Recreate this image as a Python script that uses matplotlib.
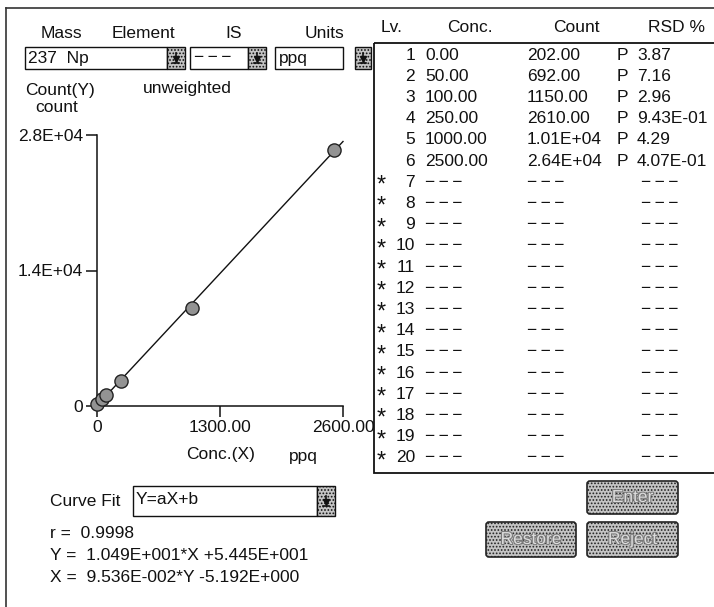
import matplotlib
matplotlib.use('Agg')
import matplotlib.pyplot as plt
from matplotlib import font_manager
from matplotlib.patches import Rectangle, FancyBboxPatch
import matplotlib.patheffects as pe
import numpy as np

# ---------------- data ----------------
levels = list(range(1, 21))
conc = [0.00, 50.00, 100.00, 250.00, 1000.00, 2500.00]
count = [202.00, 692.00, 1150.00, 2610.00, 10100.0, 26400.0]
count_labels = ["202.00", "692.00", "1150.00", "2610.00", "1.01E+04", "2.64E+04"]
rsd_labels = ["3.87", "7.16", "2.96", "9.43E-01", "4.29", "4.07E-01"]
slope = 10.49
intercept = 54.45
x_ticks = [0, 1300, 2600]
x_tick_labels = ["0", "1300.00", "2600.00"]
y_ticks = [0, 14000, 28000]
y_tick_labels = ["0", "1.4E+04", "2.8E+04"]
fit_lines = ["r =  0.9998",
             "Y =  1.049E+001*X +5.445E+001",
             "X =  9.536E-002*Y -5.192E+000"]
DASH = "\u2212\u2009\u2212\u2009\u2212"

# ---------------- fonts ----------------
names = {f.name for f in font_manager.fontManager.ttflist}
if 'Liberation Sans Narrow' in names:
    FAM = ['Liberation Sans Narrow', 'DejaVu Sans']
    FS = 14.0
else:
    FAM = ['Liberation Sans', 'DejaVu Sans']
    FS = 12.5
plt.rcParams['font.family'] = FAM
plt.rcParams['hatch.color'] = '#6a6a6a'
plt.rcParams['hatch.linewidth'] = 0.8

W, H = 714, 607
fig = plt.figure(figsize=(W / 100, H / 100), dpi=100)
bg = fig.add_axes([0, 0, 1, 1])
bg.set_xlim(0, W)
bg.set_ylim(H, 0)
bg.axis('off')

K = '#111111'


def txt(x, y, s, ha='left', va='center', **kw):
    kw.setdefault('color', K)
    kw.setdefault('fontsize', FS)
    bg.text(x, y, s, ha=ha, va=va, **kw)


def box(x0, x1, y0, y1, lw=1.0):
    bg.add_patch(Rectangle((x0, y0), x1 - x0, y1 - y0, fill=False,
                           edgecolor=K, lw=lw))


def dropbtn(x0, x1, y0, y1):
    bg.add_patch(Rectangle((x0, y0), x1 - x0, y1 - y0, facecolor='#c4c4c4',
                           edgecolor=K, lw=1.0, hatch='.....'))
    cx = (x0 + x1) / 2
    cy = (y0 + y1) / 2
    bg.plot([cx, cx], [cy - 5, cy + 1], color=K, lw=1.2)
    bg.plot([cx], [cy + 1], marker='v', ms=4, color=K)
    bg.plot([cx - 3, cx + 3], [cy + 5, cy + 5], color=K, lw=1.2)


# window borders
bg.plot([6, W], [8, 8], color='#333333', lw=1.2)
bg.plot([6, 6], [8, H], color='#333333', lw=1.2)

# top selector row
txt(61, 33, "Mass", ha='center')
txt(143, 33, "Element", ha='center')
txt(234, 33, "IS", ha='center')
txt(324, 33, "Units", ha='center')
box(25, 167, 47, 69)
txt(28, 58, "237  Np")
dropbtn(167, 185, 47, 69)
box(190, 248, 47, 69)
txt(194, 58, DASH)
dropbtn(248, 266, 47, 69)
box(275, 343, 47, 69)
txt(279, 58, "ppq")
dropbtn(355, 371, 47, 69)

txt(25, 91, "Count(Y)")
txt(143, 89, "unweighted")
txt(57, 107, "count", ha='center')

# ---------------- table ----------------
txt(392, 28, "Lv.", ha='center')
txt(470, 28, "Conc.", ha='center')
txt(576, 28, "Count", ha='center')
txt(677, 28, "RSD %", ha='center')
box(374, W + 5, 43, 473, lw=1.3)
row0, pitch = 55, 21.2
for i, lv in enumerate(levels):
    y = row0 + i * pitch
    txt(415, y, str(lv), ha='right')
    if i < len(conc):
        txt(425, y, f"{conc[i]:.2f}")
        txt(527, y, count_labels[i])
        txt(617, y, "P")
        txt(637, y, rsd_labels[i])
    else:
        txt(381, y + 3, "*", ha='center', fontsize=FS * 1.35)
        txt(425, y, DASH)
        txt(527, y, DASH)
        txt(641, y, DASH)

# ---------------- plot ----------------
ax = fig.add_axes([97 / W, 1 - 406 / H, 246 / W, 271 / H])
ax.patch.set_alpha(0)
ax.set_xlim(0, 2600)
ax.set_ylim(0, 28000)
for s in ('top', 'right'):
    ax.spines[s].set_visible(False)
for s in ('left', 'bottom'):
    ax.spines[s].set_color(K)
    ax.spines[s].set_linewidth(1.1)
xf = np.array([0, 2600])
ax.plot(xf, slope * xf + intercept, color=K, lw=1.0, clip_on=False)
ax.plot(conc, count, 'o', ms=9.5, mfc='#939393', mec='#222222', mew=1.0,
        clip_on=False, zorder=3)
ax.set_xticks(x_ticks)
ax.set_xticklabels(x_tick_labels)
ax.set_yticks(y_ticks)
ax.set_yticklabels(y_tick_labels)
ax.tick_params(direction='out', length=8, width=1.1, labelsize=FS, pad=2,
               colors=K)
txt(221, 455, "Conc.(X)", ha='center')
txt(303, 456, "ppq", ha='center')

# ---------------- lower controls ----------------
txt(50, 501, "Curve Fit")
box(133, 317, 486, 516)
txt(136, 499, "Y=aX+b")
dropbtn(317, 335, 486, 516)
for j, s in enumerate(fit_lines):
    txt(50, 533 + j * 22, s)


def button(x0, x1, y0, y1, label):
    bg.add_patch(FancyBboxPatch((x0, y0), x1 - x0, y1 - y0,
                                boxstyle='round,pad=0,rounding_size=3',
                                facecolor='#c4c4c4', edgecolor='#222222',
                                lw=1.2, hatch='.....'))
    bg.text((x0 + x1) / 2, (y0 + y1) / 2, label, ha='center', va='center',
            fontsize=FS, color='#dcdcdc',
            path_effects=[pe.withStroke(linewidth=1.5, foreground='#7a7a7a')])


button(587, 678, 481, 514, "Enter")
button(486, 576, 522, 557, "Restore")
button(587, 678, 522, 557, "Reject")

fig.savefig('out.png', dpi=100)
